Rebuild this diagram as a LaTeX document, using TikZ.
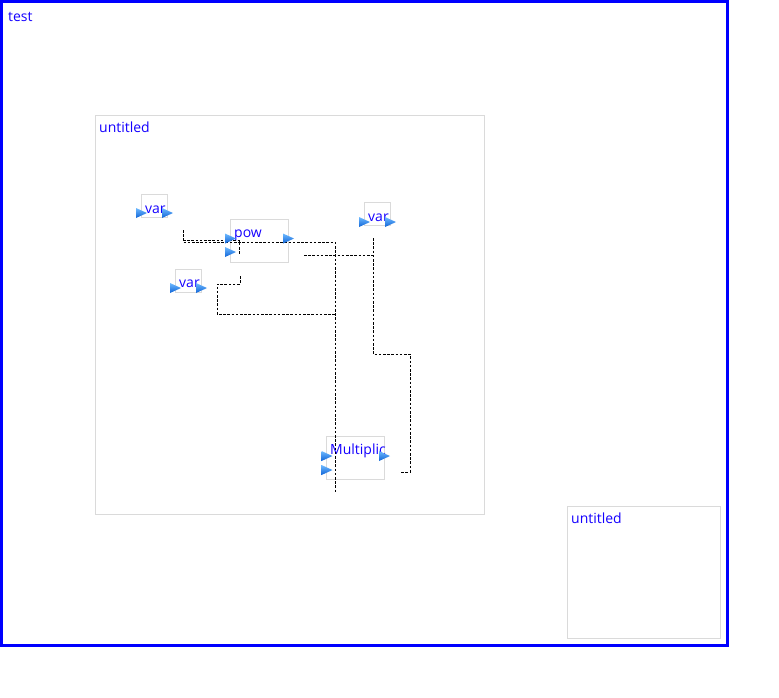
\documentclass[tikz,border=0pt]{standalone}
\usepackage{fontspec}
\setmainfont{Open Sans}
\definecolor{framegray}{RGB}{218,218,218}
\definecolor{portlight}{RGB}{110,185,255}
\definecolor{portdark}{RGB}{15,100,215}
\definecolor{lbl}{RGB}{20,0,255}
\tikzset{
  blockbox/.style={draw=framegray, line width=0.8pt},
  lbltext/.style={text=lbl, font=\fontsize{14}{16}\selectfont, inner sep=0pt, anchor=base west},
  wire/.style={draw=black, line width=0.9pt, dash pattern=on 2.6pt off 1.6pt},
  portshape/.style={top color=portlight, bottom color=portdark, draw=none}
}
\newcommand{\portat}[2]{\path[portshape] (#1-5.5,#2-5) -- (#1+5.5,#2) -- (#1-5.5,#2+5) -- cycle;}
\begin{document}
\begin{tikzpicture}[x=1pt,y=-1pt]
\useasboundingbox (0,0) rectangle (779,697);
% outer frame
\draw[blue, line width=3pt] (1.5,1.5) rectangle (727,645);
\node[lbltext] (ttest) at (8,21.5) {test};
% inner untitled boxes
\draw[blockbox] (95.5,115.5) rectangle (484.5,514.5);
\node[lbltext] (tunt1) at (99,132.5) {untitled};
\draw[blockbox] (567.5,506.5) rectangle (720.5,638.5);
\node[lbltext] (tunt2) at (571,523.5) {untitled};
% blocks
\draw[blockbox] (141.5,194.5) rectangle (167.5,217.5);
\node[lbltext] (tvar1) at (145,213) {var};
\draw[blockbox] (230.5,219.5) rectangle (288.5,262.5);
\node[lbltext] (tpow) at (234,237) {pow};
\draw[blockbox] (175.5,269.5) rectangle (201.5,292.5);
\node[lbltext] (tvar2) at (179,287) {var};
\draw[blockbox] (364.5,202.5) rectangle (390.5,225.5);
\node[lbltext] (tvar3) at (368,221) {var};
\draw[blockbox] (326.5,436.5) rectangle (384.5,479.5);
\node[lbltext] (tmul) at (330,454) {Multiplic};
% wire coordinates
\coordinate (a1) at (183,230);
\coordinate (a2) at (183,242);
\coordinate (a3) at (335,242);
\coordinate (a4) at (335,492);
\coordinate (b1) at (183,240.5);
\coordinate (b2) at (239.5,240.5);
\coordinate (b3) at (239.5,255);
\coordinate (c1) at (240,276);
\coordinate (c2) at (240,284);
\coordinate (c3) at (217,284);
\coordinate (c4) at (217,314);
\coordinate (c5) at (335,314);
\coordinate (d1) at (304,255);
\coordinate (d2) at (373,255);
\coordinate (e1) at (373,238);
\coordinate (e2) at (373,354);
\coordinate (e3) at (410,354);
\coordinate (e4) at (410,472);
\coordinate (e5) at (400,472);
% wires
\draw[wire] (a1) -- (a2) -- (a3) -- (a4);
\draw[wire] (b1) -- (b2) -- (b3);
\draw[wire] (c1) -- (c2) -- (c3) -- (c4) -- (c5);
\draw[wire] (d1) -- (d2);
\draw[wire] (e1) -- (e2) -- (e3) -- (e4) -- (e5);
% ports
\portat{141.5}{213}
\portat{167.5}{213}
\portat{230.5}{238.5}
\portat{230.5}{252}
\portat{288.5}{238.5}
\portat{175.5}{288}
\portat{201.5}{288}
\portat{364.5}{222}
\portat{390.5}{222}
\portat{327}{456}
\portat{327}{470}
\portat{384.5}{456}
\end{tikzpicture}
\end{document}
